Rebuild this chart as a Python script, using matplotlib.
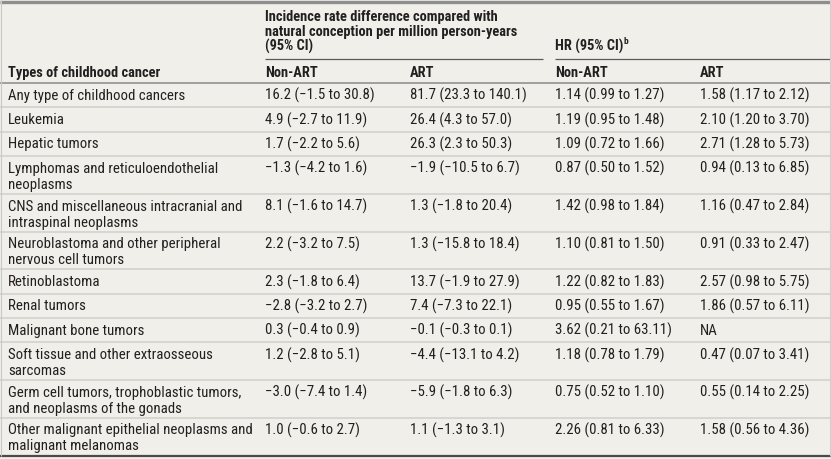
import matplotlib
matplotlib.use("Agg")
import matplotlib.pyplot as plt

FONT = ['Liberation Sans Narrow', 'Roboto Condensed', 'Lato', 'DejaVu Sans']

cancer_types = [
    "Any type of childhood cancers",
    "Leukemia",
    "Hepatic tumors",
    "Lymphomas and reticuloendothelial\nneoplasms",
    "CNS and miscellaneous intracranial and\nintraspinal neoplasms",
    "Neuroblastoma and other peripheral\nnervous cell tumors",
    "Retinoblastoma",
    "Renal tumors",
    "Malignant bone tumors",
    "Soft tissue and other extraosseous\nsarcomas",
    "Germ cell tumors, trophoblastic tumors,\nand neoplasms of the gonads",
    "Other malignant epithelial neoplasms and\nmalignant melanomas",
]
ird_non_art = [
    "16.2 (−1.5 to 30.8)", "4.9 (−2.7 to 11.9)", "1.7 (−2.2 to 5.6)",
    "−1.3 (−4.2 to 1.6)", "8.1 (−1.6 to 14.7)", "2.2 (−3.2 to 7.5)",
    "2.3 (−1.8 to 6.4)", "−2.8 (−3.2 to 2.7)", "0.3 (−0.4 to 0.9)",
    "1.2 (−2.8 to 5.1)", "−3.0 (−7.4 to 1.4)", "1.0 (−0.6 to 2.7)",
]
ird_art = [
    "81.7 (23.3 to 140.1)", "26.4 (4.3 to 57.0)", "26.3 (2.3 to 50.3)",
    "−1.9 (−10.5 to 6.7)", "1.3 (−1.8 to 20.4)", "1.3 (−15.8 to 18.4)",
    "13.7 (−1.9 to 27.9)", "7.4 (−7.3 to 22.1)", "−0.1 (−0.3 to 0.1)",
    "−4.4 (−13.1 to 4.2)", "−5.9 (−1.8 to 6.3)", "1.1 (−1.3 to 3.1)",
]
hr_non_art = [
    "1.14 (0.99 to 1.27)", "1.19 (0.95 to 1.48)", "1.09 (0.72 to 1.66)",
    "0.87 (0.50 to 1.52)", "1.42 (0.98 to 1.84)", "1.10 (0.81 to 1.50)",
    "1.22 (0.82 to 1.83)", "0.95 (0.55 to 1.67)", "3.62 (0.21 to 63.11)",
    "1.18 (0.78 to 1.79)", "0.75 (0.52 to 1.10)", "2.26 (0.81 to 6.33)",
]
hr_art = [
    "1.58 (1.17 to 2.12)", "2.10 (1.20 to 3.70)", "2.71 (1.28 to 5.73)",
    "0.94 (0.13 to 6.85)", "1.16 (0.47 to 2.84)", "0.91 (0.33 to 2.47)",
    "2.57 (0.98 to 5.75)", "1.86 (0.57 to 6.11)", "NA",
    "0.47 (0.07 to 3.41)", "0.55 (0.14 to 2.25)", "1.58 (0.56 to 4.36)",
]
group_headers = ["Incidence rate difference compared with\nnatural conception per million person-years\n(95% CI)",
                 "HR (95% CI)"]
col_headers = ["Types of childhood cancer", "Non-ART", "ART", "Non-ART", "ART"]

W, H = 831, 459
BG = '#f1efe9'
TXT = '#231f20'
FS = 10.7
FSH = 10.4

fig = plt.figure(figsize=(W / 100, H / 100), dpi=100, facecolor=BG)
ax = fig.add_axes([0, 0, 1, 1])
ax.set_xlim(0, W)
ax.set_ylim(H, 0)
ax.axis('off')
ax.set_facecolor(BG)

col_x = [8, 265, 410, 555, 700]
LINE = 16.0

# header
ax.hlines(2, 0, W, color='#8e8e8e', lw=2.4)
for i, ln in enumerate(group_headers[0].split('\n')):
    ax.text(col_x[1], 17 + 14.6 * i, ln, family=FONT, fontsize=FSH, fontweight='bold',
            color=TXT, va='center', ha='left')
t = ax.text(col_x[3], 46, group_headers[1], family=FONT, fontsize=FSH, fontweight='bold',
            color=TXT, va='center', ha='left')
fig.canvas.draw()
bb = t.get_window_extent()
x_end = ax.transData.inverted().transform((bb.x1, bb.y1))[0]
ax.text(x_end + 0.5, 41, "b", family=FONT, fontsize=FSH * 0.65, fontweight='bold',
        color=TXT, va='center', ha='left')
ax.hlines(59, col_x[1], 543, color='#5a5a5a', lw=0.9)
ax.hlines(59, col_x[3], W, color='#5a5a5a', lw=0.9)
for x, h in zip(col_x, col_headers):
    ax.text(x, 73, h, family=FONT, fontsize=FSH, fontweight='bold', color=TXT,
            va='center', ha='left')
ax.hlines(83, 0, W, color='#8a8a8a', lw=1.1)

# body
y = 83.0
rows = list(zip(cancer_types, ird_non_art, ird_art, hr_non_art, hr_art))
for r, row in enumerate(rows):
    nlines = row[0].count('\n') + 1
    h = 24.4 if nlines == 1 else 37.7
    for x, cell in zip(col_x, row):
        for k, ln in enumerate(cell.split('\n')):
            ax.text(x, y + 12.6 + LINE * k, ln, family=FONT, fontsize=FS,
                    color=TXT, va='center', ha='left')
    y += h
    if r < len(rows) - 1:
        ax.hlines(y, 0, W, color='#d6d4ce', lw=1.3)
ax.hlines(y, 0, W, color='#4a4a4a', lw=1.6)

# side borders
ax.vlines(0.5, 0, y, color='#c8c8c8', lw=0.8)
ax.vlines(W - 1.5, 0, y, color='#d0d0d0', lw=0.8)

fig.savefig('out.png', dpi=100, facecolor=BG)
